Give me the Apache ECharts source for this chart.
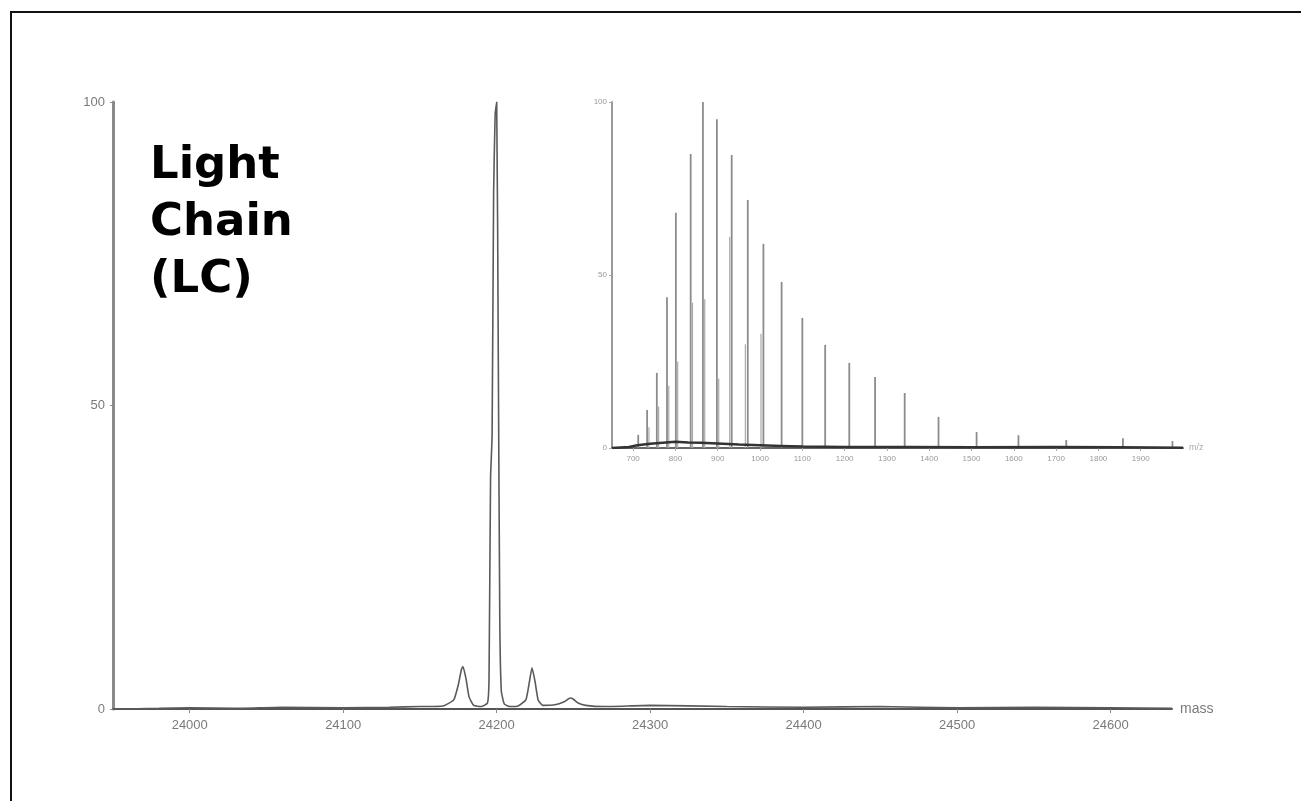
<!DOCTYPE html>
<html>
<head>
<meta charset="utf-8">
<script src="https://cdn.jsdelivr.net/npm/echarts@6/dist/echarts.min.js"></script>
<style>
html,body{margin:0;padding:0;background:#fff;}
#c{width:1301px;height:801px;}
</style>
</head>
<body>
<div id="c"></div>
<script>
// Main deconvoluted spectrum (mass vs relative intensity)
const mainMass = [23950, 23980, 24000, 24030, 24060, 24100, 24130, 24150, 24165, 24172, 24175, 24177, 24178, 24180, 24182, 24185, 24190, 24194, 24195, 24196, 24197, 24198, 24199, 24200, 24201, 24202, 24203, 24205, 24209, 24214, 24219, 24221, 24223, 24225, 24227, 24230, 24238, 24244, 24248, 24250, 24253, 24258, 24270, 24300, 24350, 24400, 24450, 24500, 24550, 24600, 24640];
const mainInt  = [0, 0.1, 0.2, 0.1, 0.3, 0.2, 0.3, 0.4, 0.5, 1.5, 4, 6.5, 7, 5, 2, 0.6, 0.4, 1, 5, 38, 45, 85, 98, 100, 60, 15, 3, 0.8, 0.4, 0.5, 1.5, 4, 6.8, 4.5, 1.5, 0.6, 0.7, 1.2, 1.8, 1.6, 1, 0.6, 0.4, 0.6, 0.4, 0.3, 0.4, 0.2, 0.3, 0.2, 0.1];
const mainXTicks = [24000, 24100, 24200, 24300, 24400, 24500, 24600];
const mainYTicks = [0, 50, 100];

// Inset raw ESI spectrum (m/z vs relative intensity), charge-state envelope
const insetMz  = [712, 733, 756, 780, 801, 836, 865, 898, 933, 971, 1008, 1051, 1100, 1154, 1211, 1272, 1342, 1422, 1512, 1611, 1724, 1858, 1975];
const insetInt = [3.8, 11, 21.7, 43.6, 68, 85, 100, 95, 84.7, 71.7, 59, 48, 37.6, 29.8, 24.6, 20.5, 15.9, 9, 4.6, 3.7, 2.3, 2.8, 2];
// satellite (adduct) peaks next to the main ones
const satMz  = [738, 761, 785, 806, 841, 870, 903, 929, 966, 1003];
const satInt = [6, 12, 18, 25, 42, 43, 20, 61, 30, 33];
// baseline noise of the inset
const noiseMz  = [650, 690, 710, 740, 770, 800, 830, 860, 900, 950, 1000, 1050, 1100, 1200, 1350, 1500, 1700, 1850, 2000];
const noiseInt = [0, 0.3, 0.8, 1.2, 1.5, 1.8, 1.6, 1.5, 1.3, 1, 0.8, 0.6, 0.4, 0.3, 0.3, 0.2, 0.3, 0.2, 0.1];
const insetXTicks = [700, 800, 900, 1000, 1100, 1200, 1300, 1400, 1500, 1600, 1700, 1800, 1900];
const insetYTicks = [0, 50, 100];

const chart = echarts.init(document.getElementById('c'), null, {renderer: 'canvas'});

const zip = (a, b) => a.map((v, i) => [v, b[i]]);
const plain = v => String(v);

const axisGrey = '#8a8a8a';
const labelGrey = '#7a7a7a';

chart.setOption({
  animation: false,
  backgroundColor: '#fff',
  grid: [
    {left: 113, right: 129, top: 102, bottom: 92},
    {left: 612, right: 118, top: 102, bottom: 353}
  ],
  xAxis: [
    {
      type: 'value', gridIndex: 0, min: 23950, max: 24640,
      name: 'mass', nameLocation: 'end', nameGap: 8,
      nameTextStyle: {color: labelGrey, fontSize: 14, fontFamily: 'Liberation Sans', verticalAlign: 'middle'},
      axisLine: {show: true, onZero: false, lineStyle: {color: '#555', width: 2}},
      axisTick: {show: true, length: 4, lineStyle: {color: axisGrey}, customValues: mainXTicks},
      axisLabel: {color: labelGrey, fontSize: 13, fontFamily: 'Liberation Sans', margin: 10, customValues: mainXTicks, formatter: plain},
      splitLine: {show: false}
    },
    {
      type: 'value', gridIndex: 1, min: 650, max: 2000,
      name: 'm/z', nameLocation: 'end', nameGap: 6,
      nameTextStyle: {color: '#aaa', fontSize: 9, fontFamily: 'Liberation Sans', verticalAlign: 'middle'},
      axisLine: {show: true, onZero: false, lineStyle: {color: '#666', width: 2}},
      axisTick: {show: true, length: 3, lineStyle: {color: '#aaa'}, customValues: insetXTicks},
      axisLabel: {color: '#999', fontSize: 8, fontFamily: 'Liberation Sans', margin: 7, customValues: insetXTicks, formatter: plain},
      splitLine: {show: false}
    }
  ],
  yAxis: [
    {
      type: 'value', gridIndex: 0, min: 0, max: 100,
      axisLine: {show: true, lineStyle: {color: axisGrey, width: 3}},
      axisTick: {show: true, length: 3, lineStyle: {color: axisGrey}, customValues: mainYTicks},
      axisLabel: {color: labelGrey, fontSize: 13, fontFamily: 'Liberation Sans', margin: 8, customValues: mainYTicks, formatter: plain},
      splitLine: {show: false}
    },
    {
      type: 'value', gridIndex: 1, min: 0, max: 100,
      axisLine: {show: true, lineStyle: {color: '#999', width: 2}},
      axisTick: {show: true, length: 3, lineStyle: {color: '#aaa'}, customValues: insetYTicks},
      axisLabel: {color: '#999', fontSize: 8, fontFamily: 'Liberation Sans', margin: 5, customValues: insetYTicks, formatter: plain},
      splitLine: {show: false}
    }
  ],
  series: [
    {
      type: 'line', xAxisIndex: 0, yAxisIndex: 0,
      data: zip(mainMass, mainInt),
      showSymbol: false, smooth: 0.15,
      lineStyle: {color: '#5a5a5a', width: 1.6}
    },
    {
      type: 'line', xAxisIndex: 1, yAxisIndex: 1,
      data: zip(noiseMz, noiseInt),
      showSymbol: false,
      lineStyle: {color: '#333', width: 2.5}
    },
    {
      type: 'bar', xAxisIndex: 1, yAxisIndex: 1,
      data: zip(satMz, satInt),
      barWidth: 1.2, barGap: '-100%',
      itemStyle: {color: '#aaa'}
    },
    {
      type: 'bar', xAxisIndex: 1, yAxisIndex: 1,
      data: zip(insetMz, insetInt),
      barWidth: 1.8, barGap: '-100%',
      itemStyle: {color: '#8c8c8c'}
    }
  ],
  graphic: [
    {type: 'rect', shape: {x: 10, y: 11, width: 2, height: 790}, style: {fill: '#111'}, silent: true},
    {type: 'rect', shape: {x: 10, y: 11, width: 1291, height: 2}, style: {fill: '#111'}, silent: true},
    {
      type: 'text', left: 150, top: 138,
      style: {
        text: 'Light\nChain\n(LC)',
        font: 'bold 45px "DejaVu Sans"',
        lineHeight: 57,
        fill: '#000'
      }
    }
  ]
});
</script>
</body>
</html>
